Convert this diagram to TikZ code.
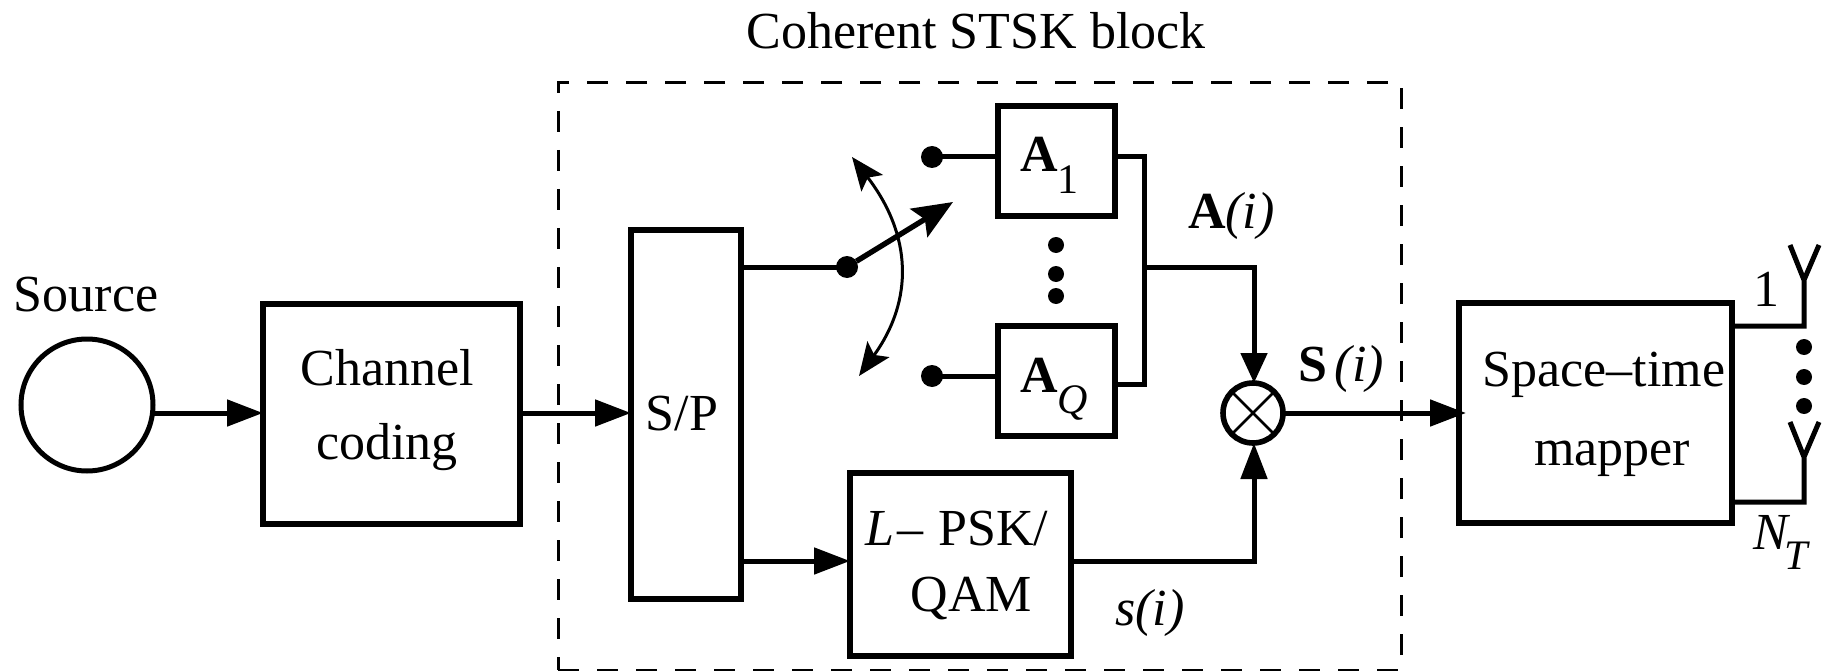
\documentclass[tikz,border=0pt]{standalone}
\usepackage{fontspec}
\setmainfont{Liberation Serif}
\usetikzlibrary{arrows.meta}
\newcommand{\lowsub}[2][-21pt]{\raisebox{#1}{\fontsize{42}{42}\selectfont #2}}
\tikzset{
  x=1pt,y=-1pt,
  every node/.style={font=\fontsize{52}{74}\selectfont,inner sep=0pt,outer sep=0pt},
  line/.style={line width=5pt,line join=miter},
  box/.style={draw,line width=5.4pt,anchor=north west},
  lbl/.style={align=center},
  arr/.style={line,-{Triangle[length=36pt,width=26pt,sep=0pt]}},
  shortarr/.style={line,-{Triangle[length=30pt,width=26pt,sep=0pt]}},
  pt/.style={circle,fill=black,minimum size=22pt,draw=none},
  tiny dot/.style={circle,fill=black,minimum size=16pt,draw=none},
  thinarc/.style={line width=3pt,{Stealth[length=33pt,width=27pt,inset=7pt]}-{Stealth[length=33pt,width=27pt,inset=7pt]}}
}
\begin{document}
\begin{tikzpicture}
\useasboundingbox (0,0) rectangle (1825,671);
\fill[white] (0,0) rectangle (1825,671);
% title and dashed block
\node[lbl] (title) at (976,31) {Coherent STSK block};
\node[draw,line width=3pt,dash pattern=on 21pt off 18pt,anchor=north west,minimum width=843pt,minimum height=587pt] (stsk) at (558,83) {};
% source and boxes
\node[lbl] (srclabel) at (86,295) {Source};
\node[draw,line width=5pt,circle,minimum size=132pt] (source) at (87,405) {};
\node[box,minimum width=257pt,minimum height=220pt] (coding) at (263,304) {};
\node[lbl] at (387,410) {Channel\\coding};
\node[box,minimum width=110pt,minimum height=369pt] (sp) at (631,230) {};
\node[lbl] at (682,414) {S/P};
\node[box,minimum width=221pt,minimum height=183pt] (psk) at (850,473) {};
\node[lbl] at (957,565.5) {\textit{L}\hspace{3pt}–\hspace{2pt} PSK/\\[-8pt]\hspace{29pt}QAM};
\node[box,minimum width=117pt,minimum height=110pt] (a1) at (998,106) {};
\node[anchor=base west] at (1020,172) {\textbf{A}\lowsub{1}};
\node[box,minimum width=117pt,minimum height=110pt] (aq) at (998,326) {};
\node[anchor=base west] at (1020,392) {\textbf{A}\lowsub{\textit{Q}}};
\node[box,minimum width=273pt,minimum height=220pt] (map) at (1459,303) {};
\node[lbl] at (1604,414) {Space–time\\[5pt]\hspace{16pt}mapper};
% switch
\node[pt] (sw) at (847,267) {};
\node[pt] (c1) at (932,157) {};
\node[pt] (cq) at (932,376) {};
\coordinate (swtip) at (953,202);
\coordinate (arcT) at (852,157);
\coordinate (arcB) at (859,376);
\draw[thinarc] (arcT) .. controls (912,235) and (914,300) .. (arcB);
\draw[line width=5.4pt,-{Stealth[length=40pt,width=33pt,inset=7pt]}] (sw) -- (swtip);
\node[tiny dot] (d1) at (1056,245) {};
\node[tiny dot] (d2) at (1056,274) {};
\node[tiny dot] (d3) at (1056,296) {};
% multiplier
\node[draw,line width=5.6pt,circle,minimum size=60pt,fill=white] (mul) at (1253,413) {};
\draw[line width=2.6pt] (mul.45) -- (mul.225) (mul.135) -- (mul.315);
% connectors
\coordinate (srcout) at (152,413);
\draw[arr] (srcout) -- (coding.west |- srcout);
\coordinate (codeout) at (520,413);
\draw[arr] (codeout) -- (sp.west |- codeout);
\coordinate (spup) at (741,267);
\coordinate (splow) at (741,561);
\draw[line] (spup) -- (sw.center);
\draw[arr] (splow) -- (psk.west |- splow);
\draw[line] (c1.center) -- (a1.west |- c1);
\draw[line] (cq.center) -- (aq.west |- cq);
\coordinate (bus1) at (1144,157);
\coordinate (busq) at (1144,384);
\coordinate (busm) at (1144,267);
\coordinate (mid) at (1254,267);
\draw[line] (1115,157) -- (bus1) -- (busq) -- (1115,384);
\draw[shortarr] (busm) -- (mid) -- (mid |- mul.north);
\coordinate (pskout) at (1071,561);
\coordinate (pskcorner) at (1254,561);
\draw[arr] (pskout) -- (pskcorner) -- (pskcorner |- mul.south);
\coordinate (mapin) at (1466,413);
\draw[arr] (mul.east) -- (mapin);
% antennas
\coordinate (o1) at (1732,326);
\coordinate (a1c) at (1804,326);
\coordinate (a1b) at (1804,280);
\coordinate (o2) at (1732,502);
\coordinate (a2c) at (1804,502);
\coordinate (a2b) at (1804,457);
\draw[line] (o1) -- (a1c) -- (a1b) -- (1790,245) (a1b) -- (1819,245);
\draw[line] (o2) -- (a2c) -- (a2b) -- (1790,422) (a2b) -- (1819,422);
\node[tiny dot] (e1) at (1804,347) {};
\node[tiny dot] (e2) at (1804,377) {};
\node[tiny dot] (e3) at (1804,406) {};
% labels
\node[anchor=base west] at (1188,229) {\textbf{A}\textit{(i)}};
\node[lbl] at (1341,369) {\textbf{S}\hspace{8pt}\textit{(i)}};
\node[lbl] at (1150,613) {\textit{s(i)}};
\node[lbl] at (1766,289) {1};
\node[anchor=base west] at (1753,549) {\textit{N}\hspace{-6pt}\lowsub[-20pt]{\textit{T}}};
\end{tikzpicture}
\end{document}
